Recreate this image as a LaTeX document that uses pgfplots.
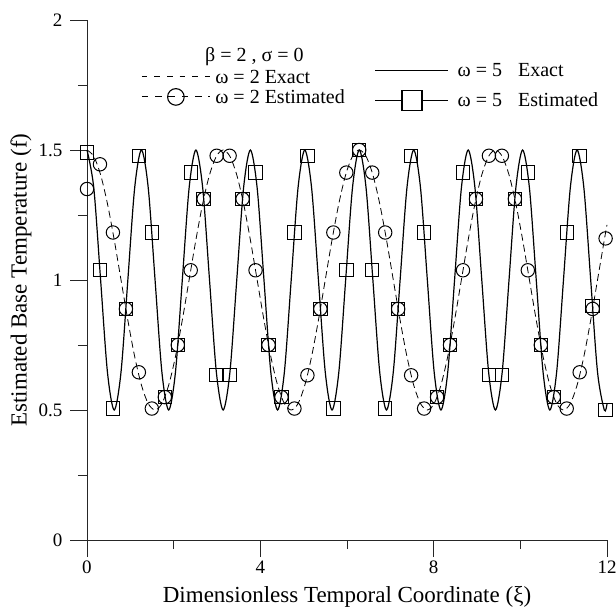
\documentclass[border=0pt]{standalone}
\usepackage{fontspec}
\setmainfont{Liberation Serif}
\usepackage{pgfplots}
\usepackage{pgfplotstable}
\pgfplotsset{compat=1.18}

\pgfplotstableread{
x f5 f2
0 1.5 1.5
0.1571 1.3536 1.4755
0.3142 1 1.4045
0.4712 0.6464 1.2939
0.6283 0.5 1.1545
0.7854 0.6464 1.0
0.9425 1 0.8455
1.0996 1.3536 0.7061
1.2566 1.5 0.5955
1.4137 1.3536 0.5245
1.5708 1 0.5
1.7279 0.6464 0.5245
1.8850 0.5 0.5955
2.0420 0.6464 0.7061
2.1991 1 0.8455
2.3562 1.3536 1.0
2.5133 1.5 1.1545
2.6704 1.3536 1.2939
2.8274 1 1.4045
2.9845 0.6464 1.4755
3.1416 0.5 1.5
3.2987 0.6464 1.4755
3.4558 1 1.4045
3.6128 1.3536 1.2939
3.7699 1.5 1.1545
3.9270 1.3536 1.0
4.0841 1 0.8455
4.2412 0.6464 0.7061
4.3982 0.5 0.5955
4.5553 0.6464 0.5245
4.7124 1 0.5
4.8695 1.3536 0.5245
5.0265 1.5 0.5955
5.1836 1.3536 0.7061
5.3407 1 0.8455
5.4978 0.6464 1.0
5.6549 0.5 1.1545
5.8119 0.6464 1.2939
5.9690 1 1.4045
6.1261 1.3536 1.4755
6.2832 1.5 1.5
6.4403 1.3536 1.4755
6.5973 1 1.4045
6.7544 0.6464 1.2939
6.9115 0.5 1.1545
7.0686 0.6464 1.0
7.2257 1 0.8455
7.3827 1.3536 0.7061
7.5398 1.5 0.5955
7.6969 1.3536 0.5245
7.8540 1 0.5
8.0111 0.6464 0.5245
8.1681 0.5 0.5955
8.3252 0.6464 0.7061
8.4823 1 0.8455
8.6394 1.3536 1.0
8.7965 1.5 1.1545
8.9535 1.3536 1.2939
9.1106 1 1.4045
9.2677 0.6464 1.4755
9.4248 0.5 1.5
9.5819 0.6464 1.4755
9.7389 1 1.4045
9.8960 1.3536 1.2939
10.0531 1.5 1.1545
10.2102 1.3536 1.0
10.3673 1 0.8455
10.5243 0.6464 0.7061
10.6814 0.5 0.5955
10.8385 0.6464 0.5245
10.9956 1 0.5
11.1527 1.3536 0.5245
11.3097 1.5 0.5955
11.4668 1.3536 0.7061
11.6239 1 0.8455
11.7810 0.6464 1.0
11.9381 0.5 1.1545
12.0 0.5235 1.2121
}\exact

\pgfplotstableread{
x e5 e2
0 1.49 1.35
0.2992 1.0374 1.445
0.5984 0.5056 1.1827
0.8976 0.8887 0.8887
1.1968 1.4778 0.645
1.4960 1.1827 0.5056
1.7952 0.5495 0.5495
2.0944 0.75 0.75
2.3936 1.4131 1.0374
2.6928 1.3117 1.3117
2.9920 0.6335 1.4778
3.2912 0.6335 1.4778
3.5904 1.3117 1.3117
3.8896 1.4131 1.0374
4.1888 0.75 0.75
4.4880 0.5495 0.5495
4.7872 1.1827 0.5056
5.0864 1.4778 0.6335
5.3856 0.8887 0.8887
5.6848 0.5056 1.1827
5.9840 1.0374 1.4131
6.2832 1.5 1.5
6.5824 1.0374 1.4131
6.8816 0.5056 1.1827
7.1808 0.8887 0.8887
7.4800 1.4778 0.6335
7.7792 1.1827 0.5056
8.0784 0.5495 0.5495
8.3776 0.75 0.75
8.6768 1.4131 1.0374
8.9760 1.3117 1.3117
9.2752 0.6335 1.4778
9.5744 0.6335 1.4778
9.8736 1.3117 1.3117
10.1728 1.4131 1.0374
10.4720 0.75 0.75
10.7712 0.5495 0.5495
11.0704 1.1827 0.5056
11.3696 1.4778 0.645
11.6688 0.90 0.8887
11.9680 0.5 1.16
}\est

\begin{document}
\begin{tikzpicture}
\path[use as bounding box] (-87pt,-71pt) rectangle (529pt,540pt);
\begin{axis}[
  at={(0pt,0pt)}, anchor=south west,
  width=520pt, height=520pt, scale only axis,
  xmin=0, xmax=12, ymin=0, ymax=2,
  axis lines*=left,
  axis line style={line width=0.9pt, black!85},
  xtick={0,4,8,12}, ytick={0,0.5,1,1.5,2},
  minor x tick num=1, minor y tick num=1,
  tick align=outside,
  major tick length=17pt, minor tick length=9pt,
  every tick/.style={line width=0.9pt, black!85},
  ticklabel style={font=\fontsize{19}{22}\selectfont},
  yticklabel style={xshift=-4pt},
  /pgf/number format/assume math mode=true,
  xlabel={Dimensionless Temporal Coordinate (ξ)},
  ylabel={Estimated Base Temperature (f)},
  every axis x label/.style={at={(axis description cs:0.5,0)}, yshift=-57pt, anchor=center, font=\fontsize{23}{27}\selectfont},
  every axis y label/.style={at={(axis description cs:0,0.5)}, xshift=-66pt, rotate=90, anchor=center, font=\fontsize{23}{27}\selectfont},
  clip=false,
  legend cell align=left,
  legend style={draw=none, fill=none, at={(0.1043,0.9092)}, anchor=north west,
    inner sep=0pt, row sep=1pt, column sep=5pt,
    nodes={inner sep=0pt, text height=16pt, text depth=3pt},
    font=\fontsize{20}{23}\selectfont},
]
\addplot[black, line width=1.2pt, smooth, forget plot] table[x=x, y=f5] {\exact};
\addplot[black, line width=0.8pt, dash pattern=on 7pt off 4pt, smooth, forget plot] table[x=x, y=f2] {\exact};
\addplot[only marks, mark=o, mark size=6.7pt, mark options={line width=1pt, solid, black}, forget plot] table[x=x, y=e2] {\est};
\addplot[only marks, mark=square, mark size=6.7pt, mark options={line width=1pt, solid, black}, forget plot] table[x=x, y=e5] {\est};

\addlegendimage{legend image code/.code={\draw[black, line width=0.9pt, dash pattern=on 5.5pt off 7.1pt] (0pt,0pt) -- (68pt,0pt);}}
\addlegendentry{ω = 2 Exact}
\addlegendimage{legend image code/.code={\draw[black, line width=0.9pt, dash pattern=on 6.6pt off 6.7pt] (0pt,0pt) -- (68pt,0pt); \draw[black, line width=1.1pt] (34pt,0pt) circle (8.3pt);}}
\addlegendentry{ω = 2 Estimated}

\node[anchor=base west, font=\fontsize{20}{24}\selectfont] at (axis cs:2.647,1.842) {β = 2 , σ = 0};
\end{axis}

\begin{axis}[
  at={(0pt,0pt)}, anchor=south west,
  width=520pt, height=520pt, scale only axis,
  xmin=0, xmax=12, ymin=0, ymax=2,
  hide axis,
  legend cell align=left,
  legend style={draw=none, fill=none, at={(0.5529,0.9221)}, anchor=north west,
    inner sep=0pt, row sep=10pt, column sep=9pt,
    nodes={inner sep=0pt, text height=16pt, text depth=3pt},
    font=\fontsize{20}{23}\selectfont},
]
\addlegendimage{legend image code/.code={\draw[black, line width=1pt] (0pt,0pt) -- (73pt,0pt);}}
\addlegendentry{ω = 5\hspace{0.8em}Exact}
\addlegendimage{legend image code/.code={\draw[black, line width=1pt] (0pt,0pt) -- (26.7pt,0pt); \draw[black, line width=1pt] (46.7pt,0pt) -- (73pt,0pt); \draw[black, line width=1.3pt] (26.7pt,-10pt) rectangle (46.7pt,10pt);}}
\addlegendentry{ω = 5\hspace{0.8em}Estimated}
\end{axis}
\end{tikzpicture}
\end{document}
